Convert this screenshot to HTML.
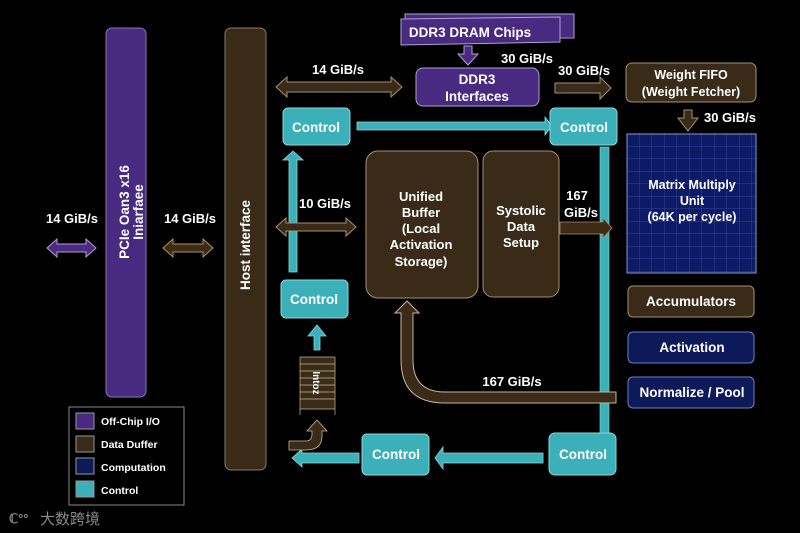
<!DOCTYPE html>
<html><head><meta charset="utf-8"><style>
html,body{margin:0;padding:0;background:#000;width:800px;height:533px;overflow:hidden}
svg{display:block}
text{font-family:"Liberation Sans","Noto Sans CJK SC",sans-serif;font-weight:bold;fill:#fff}
</style></head><body>
<svg width="800" height="533" viewBox="0 0 800 533" xmlns="http://www.w3.org/2000/svg">
<defs>
<pattern id="grid" x="627" y="134" width="12.5" height="12.5" patternUnits="userSpaceOnUse">
<path d="M12.5 0V12.5M0 12.5H12.5" stroke="#31469a" stroke-width="1" fill="none"/>
</pattern>
</defs>
<rect width="800" height="533" fill="#000"/>

<!-- PCIe -->
<rect x="106" y="28" width="40" height="369" rx="6" fill="#482a80" stroke="#8a78b0" stroke-width="1"/>
<text transform="translate(129,212) rotate(-90)" font-size="13.5" text-anchor="middle">PCIe Oan3 x16</text>
<text transform="translate(143,212) rotate(-90)" font-size="13.5" text-anchor="middle">Iniarfaee</text>
<!-- Host -->
<rect x="225" y="28" width="41" height="442" rx="6" fill="#3a2a18" stroke="#8a7a68" stroke-width="1"/>
<text transform="translate(250,245) rotate(-90)" font-size="13.5" text-anchor="middle">Host iиterface</text>

<!-- left arrows -->
<text x="72" y="223" font-size="13" text-anchor="middle">14 GiB/s</text>
<path d="M47 248 L57 239 L57 244 L86 244 L86 239 L96 248 L86 257 L86 252 L57 252 L57 257Z" fill="#4a2a82" stroke="#b0a0d0" stroke-width="1"/>
<text x="190" y="223" font-size="13" text-anchor="middle">14 GiB/s</text>
<path d="M163 248 L173 239 L173 244 L203 244 L203 239 L213 248 L203 257 L203 252 L173 252 L173 257Z" fill="#3f2a14" stroke="#a89070" stroke-width="1"/>

<!-- 14 GiB/s host arrow -->
<text x="338" y="74" font-size="13" text-anchor="middle">14 GiB/s</text>
<path d="M276 87 L287 77 L287 82 L391 82 L391 77 L402 87 L391 97 L391 92 L287 92 L287 97Z" fill="#3a2a18" stroke="#a89070" stroke-width="1"/>

<!-- DDR3 chips -->
<polygon points="405,14 574,14 574,38 405,39" fill="#482a80" stroke="#b0a0d0" stroke-width="1"/>
<polygon points="401,19 560,17 560,42 401,45" fill="#482a80" stroke="#b0a0d0" stroke-width="1"/>
<text x="470" y="37" font-size="13.5" text-anchor="middle">DDR3 DRAM Chips</text>
<path d="M464 46 L472 46 L472 54 L478 54 L468 65 L458 54 L464 54Z" fill="#482a80" stroke="#b0a0d0" stroke-width="1"/>
<text x="527" y="63" font-size="13" text-anchor="middle">30 GiB/s</text>
<rect x="416" y="68" width="123" height="38" rx="7" fill="#482a80" stroke="#b0a0d0" stroke-width="1"/>
<text x="477" y="84" font-size="13.5" text-anchor="middle">DDR3</text>
<text x="477" y="101" font-size="13.5" text-anchor="middle">Interfaces</text>

<text x="584" y="75" font-size="13" text-anchor="middle">30 GiB/s</text>
<path d="M555 83 L600 83 L600 77 L611 88 L600 99 L600 93 L555 93Z" fill="#3a2a18" stroke="#a89070" stroke-width="1"/>

<!-- weight fifo -->
<rect x="626" y="63" width="130" height="39" rx="6" fill="#3a2a18" stroke="#a89070" stroke-width="1"/>
<text x="691" y="79" font-size="12.5" text-anchor="middle">Weight FIFO</text>
<text x="691" y="96" font-size="12.5" text-anchor="middle">(Weight Fetcher)</text>
<path d="M684 110 L692 110 L692 118 L698 118 L688 131 L678 118 L684 118Z" fill="#3a2a18" stroke="#a89070" stroke-width="1"/>
<text x="730" y="122" font-size="13" text-anchor="middle">30 GiB/s</text>

<!-- matrix -->
<rect x="627" y="134" width="129" height="139" fill="#0d1a66"/>
<rect x="627" y="134" width="129" height="139" fill="url(#grid)" stroke="#8a9ad0" stroke-width="1"/>
<text x="692" y="189" font-size="12.5" text-anchor="middle">Matrix Multiply</text>
<text x="692" y="205" font-size="12.5" text-anchor="middle">Unit</text>
<text x="692" y="221" font-size="12.5" text-anchor="middle">(64K per cycle)</text>

<!-- right column -->
<rect x="628" y="286" width="126" height="31" rx="5" fill="#3a2a18" stroke="#a89070" stroke-width="1"/>
<text x="691" y="306" font-size="13.5" text-anchor="middle">Accumulators</text>
<rect x="628" y="332" width="126" height="31" rx="5" fill="#0c1a5a" stroke="#7080c0" stroke-width="1"/>
<text x="692" y="352" font-size="13.5" text-anchor="middle">Activation</text>
<rect x="628" y="377" width="126" height="31" rx="5" fill="#0c1a5a" stroke="#7080c0" stroke-width="1"/>
<text x="692" y="397" font-size="13.5" text-anchor="middle">Normalize / Pool</text>

<!-- teal lines -->
<path d="M357 122 L545 122 L545 117 L552 126 L545 135 L545 130 L357 130Z" fill="#3bb0b8" stroke="#8ad8dc" stroke-width="0.8"/>
<rect x="600" y="147" width="9" height="287" fill="#3bb0b8" stroke="#8ad8dc" stroke-width="0.6"/>
<path d="M289 272 L289 160 L283 160 L293 151 L303 160 L297 160 L297 272Z" fill="#3bb0b8" stroke="#8ad8dc" stroke-width="0.8"/>

<!-- 10 GiB/s -->
<text x="325" y="208" font-size="13" text-anchor="middle">10 GiB/s</text>
<path d="M276 227 L286 218 L286 223 L346 223 L346 218 L356 227 L346 236 L346 231 L286 231 L286 236Z" fill="#3a2a18" stroke="#a89070" stroke-width="1"/>

<!-- UB & systolic -->
<rect x="366" y="151" width="112" height="147" rx="12" fill="#3a2a18" stroke="#a89070" stroke-width="1"/>
<text x="421" y="201" font-size="13" text-anchor="middle">Unified</text>
<text x="421" y="217" font-size="13" text-anchor="middle">Buffer</text>
<text x="421" y="233" font-size="13" text-anchor="middle">(Local</text>
<text x="421" y="249" font-size="13" text-anchor="middle">Activation</text>
<text x="421" y="266" font-size="13" text-anchor="middle">Storage)</text>
<rect x="483" y="151" width="76" height="146" rx="10" fill="#3a2a18" stroke="#a89070" stroke-width="1"/>
<text x="521" y="215" font-size="13" text-anchor="middle">Systolic</text>
<text x="521" y="231" font-size="13" text-anchor="middle">Data</text>
<text x="521" y="247" font-size="13" text-anchor="middle">Setup</text>
<text x="577" y="200" font-size="13" text-anchor="middle">167</text>
<text x="581" y="217" font-size="13" text-anchor="middle">GiB/s</text>
<path d="M560 222 L603 222 L603 218 L612 228 L603 238 L603 234 L560 234Z" fill="#3f2a14" stroke="#a89070" stroke-width="0.8"/>

<!-- feedback -->
<path d="M616 392 L445 392 Q413 392 413 360 L413 313 L419 313 L407 301 L395 313 L401 313 L401 360 Q401 403 445 403 L616 403Z" fill="#3a2a18" stroke="#c8b898" stroke-width="1"/>
<text x="512" y="386" font-size="13" text-anchor="middle">167 GiB/s</text>

<!-- controls -->
<rect x="283" y="108" width="67" height="37" rx="5" fill="#3bb0b8" stroke="#8ad8dc" stroke-width="1"/>
<text x="316" y="132" font-size="13.5" text-anchor="middle">Control</text>
<rect x="550" y="108" width="67" height="37" rx="5" fill="#3bb0b8" stroke="#8ad8dc" stroke-width="1"/>
<text x="584" y="132" font-size="13.5" text-anchor="middle">Control</text>
<rect x="281" y="280" width="67" height="38" rx="5" fill="#3bb0b8" stroke="#8ad8dc" stroke-width="1"/>
<text x="314" y="304" font-size="13.5" text-anchor="middle">Control</text>
<rect x="362" y="434" width="67" height="41" rx="5" fill="#3bb0b8" stroke="#8ad8dc" stroke-width="1"/>
<text x="396" y="459" font-size="13.5" text-anchor="middle">Control</text>
<rect x="549" y="433" width="67" height="42" rx="6" fill="#3bb0b8" stroke="#8ad8dc" stroke-width="1"/>
<text x="583" y="459" font-size="13.5" text-anchor="middle">Control</text>

<path d="M314 350 L314 336 L308 336 L317 325 L326 336 L320 336 L320 350Z" fill="#3bb0b8" stroke="#8ad8dc" stroke-width="0.8"/>
<path d="M543 453 L443 453 L443 447 L435 458 L443 469 L443 463 L543 463Z" fill="#3bb0b8" stroke="#8ad8dc" stroke-width="0.8"/>
<path d="M359 453 L302 453 L302 449 L292 458 L302 467 L302 463 L359 463Z" fill="#3bb0b8" stroke="#8ad8dc" stroke-width="0.8"/>

<!-- instr stack -->
<rect x="300" y="357" width="35" height="52" fill="#3a2a18"/>
<g stroke="#c8b898" stroke-width="0.7">
<line x1="300" y1="357" x2="335" y2="357"/><line x1="300" y1="364" x2="335" y2="364"/>
<line x1="300" y1="371" x2="335" y2="371"/><line x1="300" y1="378" x2="335" y2="378"/>
<line x1="300" y1="385" x2="335" y2="385"/><line x1="300" y1="392" x2="335" y2="392"/>
<line x1="300" y1="399" x2="335" y2="399"/><line x1="300" y1="409" x2="335" y2="409"/>
<line x1="300" y1="357" x2="300" y2="415"/><line x1="335" y1="357" x2="335" y2="415"/>
</g>
<text transform="translate(317,383) rotate(90)" font-size="10" text-anchor="middle" dy="4">Intoz</text>
<path d="M289 441 L306 441 Q312 441 312 434 L312 431 L307 431 L317 420 L327 431 L322 431 L322 436 Q322 450 306 450 L289 450Z" fill="#3a2a18" stroke="#c8b898" stroke-width="0.8"/>

<!-- legend -->
<rect x="69" y="407" width="115" height="98" fill="#000" stroke="#888" stroke-width="1"/>
<rect x="76" y="413" width="18" height="16" fill="#482a80" stroke="#999"/>
<text x="101" y="425" font-size="10.5">Off-Chip I/O</text>
<rect x="76" y="436" width="18" height="16" fill="#3a2a18" stroke="#999"/>
<text x="101" y="448" font-size="10.5">Data Duffer</text>
<rect x="76" y="458" width="18" height="16" fill="#0c1a5a" stroke="#999"/>
<text x="101" y="471" font-size="10.5">Computation</text>
<rect x="76" y="481" width="18" height="16" fill="#3bb0b8" stroke="#999"/>
<text x="101" y="494" font-size="10.5">Control</text>

<!-- watermark -->
<text x="9" y="523" font-size="13" style="fill:#8a8a8a">ℂ°°</text>
<text x="40" y="524" font-size="15" style="fill:#8a8a8a;font-weight:normal">大数跨境</text>
</svg>
</body></html>
